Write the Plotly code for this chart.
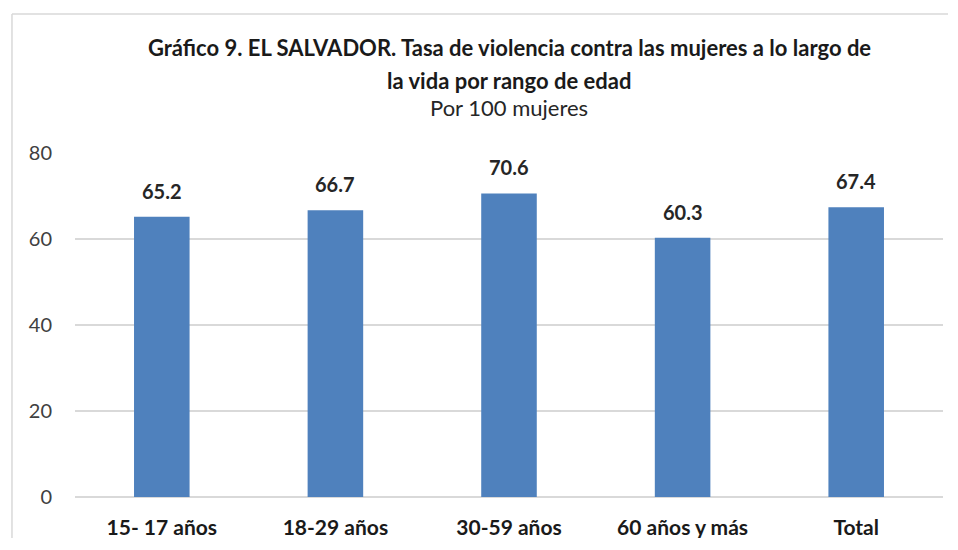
import plotly.graph_objects as go

# Tasa de violencia por rango de edad (por 100 mujeres)
categorias = ["15- 17 años", "18-29 años", "30-59 años", "60 años y más", "Total"]
tasas = [65.2, 66.7, 70.6, 60.3, 67.4]
ticks_y = [0, 20, 40, 60, 80]

FONT = "Lato"
AZUL = "#4F81BD"

fig = go.Figure()
fig.add_trace(go.Bar(
    x=categorias, y=tasas,
    marker=dict(color=AZUL, line=dict(width=0)),
    width=0.32,
    hoverinfo="x+y",
))

# etiquetas de datos sobre las barras
for c, v in zip(categorias, tasas):
    fig.add_annotation(x=c, y=v, text=f"<b>{v:.1f}</b>", showarrow=False,
                       yanchor="bottom", yshift=12,
                       font=dict(family=FONT, size=20, color="#262626"))

# titulo (el borde superior del marco esta en paper y=1.404)
TOP = 1.404
fig.add_annotation(xref="paper", yref="paper", x=0.5, y=TOP, showarrow=False,
                   text="<b>Gráfico 9. EL SALVADOR. Tasa de violencia contra las mujeres a lo largo de</b>",
                   xanchor="center", yanchor="middle", yshift=-33,
                   font=dict(family=FONT, size=22, color="#1a1a1a"))
fig.add_annotation(xref="paper", yref="paper", x=0.5, y=TOP, showarrow=False,
                   text="<b>la vida por rango de edad</b>",
                   xanchor="center", yanchor="middle", yshift=-66,
                   font=dict(family=FONT, size=22, color="#1a1a1a"))
fig.add_annotation(xref="paper", yref="paper", x=0.5, y=TOP, showarrow=False,
                   text="Por 100 mujeres",
                   xanchor="center", yanchor="middle", yshift=-93,
                   font=dict(family=FONT, size=22, color="#262626"))

# marco del grafico (solo se ven los bordes izquierdo y superior)
borde = dict(color="#D9D9D9", width=1.5)
fig.add_shape(type="line", xref="paper", yref="paper",
              x0=-0.0726, x1=1.5, y0=TOP, y1=TOP, line=borde, layer="below")
fig.add_shape(type="line", xref="paper", yref="paper",
              x0=-0.0726, x1=-0.0726, y0=-0.5, y1=TOP, line=borde, layer="below")

# el body de la pagina tiene 8px de margen
fig.update_layout(
    width=940, height=530,
    margin=dict(l=67, r=5, t=145, b=41),
    paper_bgcolor="white", plot_bgcolor="white",
    showlegend=False,
    font=dict(family=FONT, size=21, color="#595959"),
    xaxis=dict(
        showgrid=False, showline=False, zeroline=False, automargin=False,
        tickfont=dict(family=FONT, size=21, color="#1a1a1a"),
        tickprefix="<b>", ticksuffix="</b>",
        ticks="", ticklen=0, ticklabelstandoff=16,
    ),
    yaxis=dict(
        range=[0, 80], tickvals=ticks_y, automargin=False,
        showgrid=True, gridcolor="#D9D9D9", gridwidth=1.5,
        zeroline=True, zerolinecolor="#D9D9D9", zerolinewidth=1.5,
        showline=False, ticks="", ticklabelstandoff=22,
        tickfont=dict(family=FONT, size=20, color="#404040"),
    ),
)

fig.write_html("out.html")
